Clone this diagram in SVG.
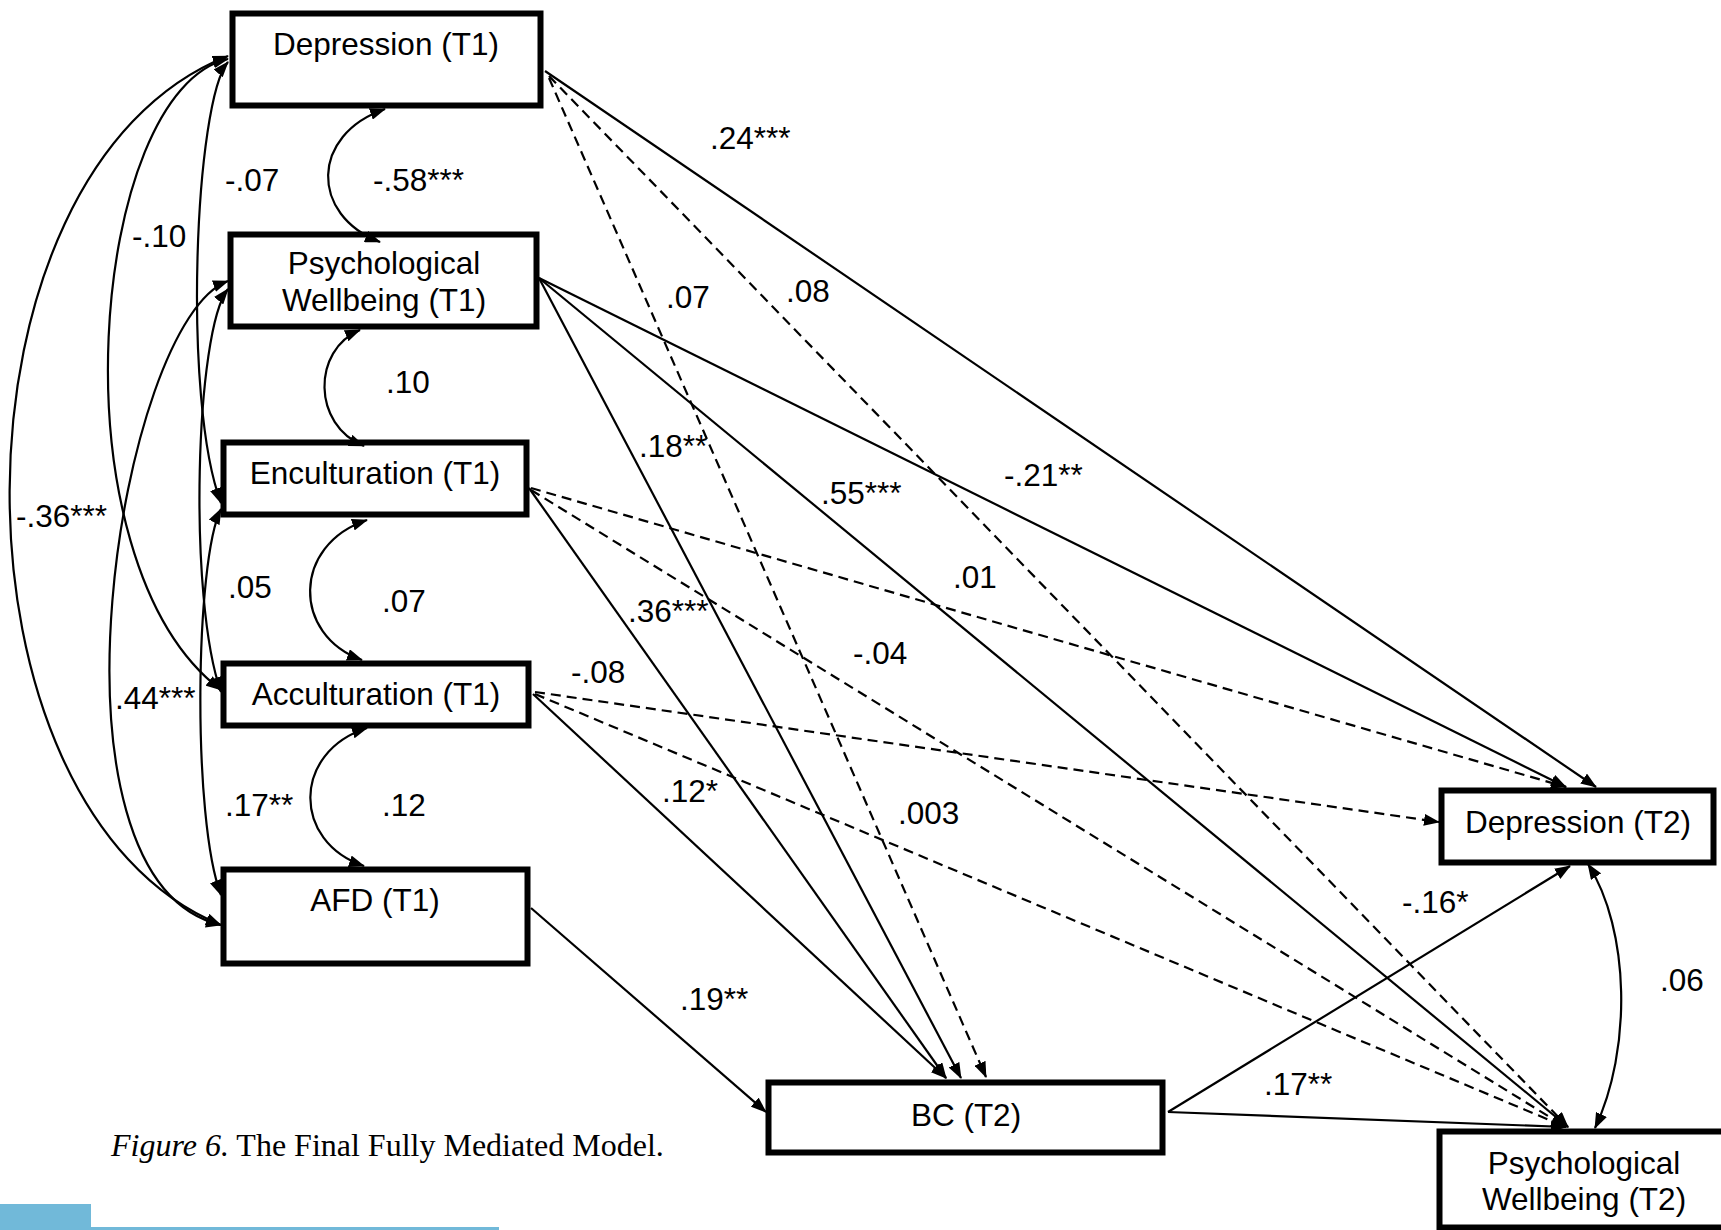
<svg xmlns="http://www.w3.org/2000/svg" width="1721" height="1230" viewBox="0 0 1721 1230">
<defs>
<marker id="ah" viewBox="0 0 16 12" refX="15" refY="6" markerWidth="16" markerHeight="12" markerUnits="userSpaceOnUse" orient="auto-start-reverse"><path d="M0,0 L16,6 L0,12 z" fill="#000"/></marker>
<style>
.box{fill:#fff;stroke:#000;stroke-width:6}
.t{font-family:"Liberation Sans",Arial,sans-serif;font-size:31.5px;fill:#000}
.node text{text-anchor:middle}
.e{fill:none;stroke:#000;stroke-width:2.2;marker-end:url(#ah)}
.d{stroke-dasharray:10 6}
.cov{marker-start:url(#ah)}
.cap{font-family:"Liberation Serif","Times New Roman",serif;font-size:32px;fill:#000}
</style>
</defs>
<rect width="1721" height="1230" fill="#fff"/>
<g id="nodes">
<g id="dep1" class="node"><rect class="box" x="232.5" y="13.5" width="308" height="92"/><text class="t" x="386" y="55">Depression (T1)</text></g>
<g id="pw1" class="node"><rect class="box" x="230.5" y="234.5" width="306" height="92"/><text class="t" x="384" y="274">Psychological</text><text class="t" x="384" y="311">Wellbeing (T1)</text></g>
<g id="enc1" class="node"><rect class="box" x="223.5" y="442.5" width="303" height="72"/><text class="t" x="375" y="484">Enculturation (T1)</text></g>
<g id="acc1" class="node"><rect class="box" x="223.5" y="663.5" width="305" height="62"/><text class="t" x="376" y="705">Acculturation (T1)</text></g>
<g id="afd1" class="node"><rect class="box" x="223.5" y="869.5" width="304" height="94"/><text class="t" x="375" y="911">AFD (T1)</text></g>
<g id="bc2" class="node"><rect class="box" x="768.5" y="1082.5" width="394" height="70"/><text class="t" x="966" y="1126">BC (T2)</text></g>
<g id="dep2" class="node"><rect class="box" x="1441.5" y="790.5" width="272" height="72"/><text class="t" x="1578" y="833">Depression (T2)</text></g>
<g id="pw2" class="node"><rect class="box" x="1439.5" y="1131.5" width="300" height="96"/><text class="t" x="1584" y="1174">Psychological</text><text class="t" x="1584" y="1210">Wellbeing (T2)</text></g>
</g>
<g id="connectors">
<path class="e" d="M545 71 L1596 787"/>
<path class="e" d="M539 278 L1566 787"/>
<path class="e" d="M539 278 L1568 1127"/>
<path class="e" d="M539 278 L961 1078"/>
<path class="e" d="M529 488 L946 1078"/>
<path class="e" d="M533 694 L946 1078"/>
<path class="e" d="M531 908 L766 1112"/>
<path class="e" d="M1168 1112 L1570 866"/>
<path class="e" d="M1168 1112 L1566 1127"/>
<path class="e d" d="M549 78 L986 1077"/>
<path class="e d" d="M549 76 L1568 1127"/>
<path class="e d" d="M531 488 L1566 787"/>
<path class="e d" d="M531 490 L1566 1127"/>
<path class="e d" d="M535 692 L1439 822"/>
<path class="e d" d="M535 694 L1566 1127"/>
<path class="e cov" d="M385 109 C310 135 310 215 380 242"/>
<path class="e cov" d="M360 330 C312 350 312 425 364 446"/>
<path class="e cov" d="M367 520 C292 545 292 635 362 660"/>
<path class="e cov" d="M367 728 C292 752 292 842 364 866"/>
<path class="e cov" d="M1588 864 C1630 930 1632 1050 1595 1128"/>
<path class="e cov" d="M228 62 C195 100 182 400 221 503"/>
<path class="e cov" d="M228 59 C90 90 50 560 221 690"/>
<path class="e cov" d="M228 56 C-62 170 -62 810 221 925"/>
<path class="e cov" d="M228 289 C195 330 188 600 221 692"/>
<path class="e cov" d="M228 281 C120 320 30 880 221 925"/>
<path class="e cov" d="M221 509 C195 560 192 820 221 895"/>
</g>
<g id="labels" class="t">
<text x="225" y="191">-.07</text>
<text x="373" y="191">-.58***</text>
<text x="132" y="247">-.10</text>
<text x="666" y="308">.07</text>
<text x="786" y="302">.08</text>
<text x="710" y="149">.24***</text>
<text x="386" y="393">.10</text>
<text x="639" y="457">.18**</text>
<text x="821" y="504">.55***</text>
<text x="1004" y="486">-.21**</text>
<text x="16" y="527">-.36***</text>
<text x="953" y="588">.01</text>
<text x="228" y="598">.05</text>
<text x="382" y="612">.07</text>
<text x="628" y="622">.36***</text>
<text x="853" y="664">-.04</text>
<text x="571" y="683">-.08</text>
<text x="115" y="709">.44***</text>
<text x="662" y="802">.12*</text>
<text x="898" y="824">.003</text>
<text x="225" y="816">.17**</text>
<text x="382" y="816">.12</text>
<text x="1402" y="913">-.16*</text>
<text x="1660" y="991">.06</text>
<text x="680" y="1010">.19**</text>
<text x="1264" y="1095">.17**</text>
</g>
<text class="cap" x="111" y="1156"><tspan font-style="italic">Figure 6.</tspan> The Final Fully Mediated Model.</text>
<rect x="0" y="1204" width="91" height="26" fill="#71b9d9"/>
<rect x="91" y="1227" width="408" height="3" fill="#71b9d9"/>
</svg>
